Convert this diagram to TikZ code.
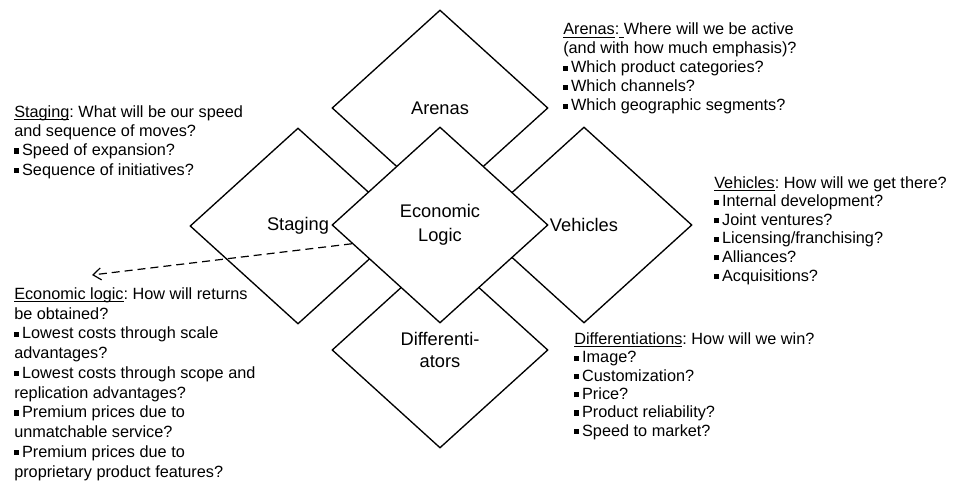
\documentclass[tikz,border=0pt]{standalone}
\usepackage{fontspec}
\setmainfont{Liberation Sans}
\usetikzlibrary{shapes.geometric,arrows.meta,calc}
\frenchspacing
\newcommand\myul[1]{\setbox0\hbox{#1}\rlap{\rule[-2pt]{\wd0}{0.75pt}}\box0}
\newcommand\bul{\raisebox{1.6pt}{\rule{3.9pt}{3.9pt}}\hspace{2pt}}
\begin{document}
\begin{tikzpicture}[x=0.75pt,y=-0.75pt,
  dia/.style={shape=diamond, draw=black, line width=1pt, fill=white,
    minimum width=162pt, minimum height=147pt, inner sep=0pt, align=center,
    font=\fontsize{13.7}{17}\selectfont},
  blk/.style={anchor=base west, align=left, inner sep=0pt},
  conn/.style={dash pattern=on 6pt off 3.75pt, line width=0.9pt,
    -{Straight Barb[length=6pt,width=9pt]}}]
\useasboundingbox (0,0) rectangle (955,481);
\node[dia] (ar) at (440,108) {Arenas};
\node[dia] (st) at (298,226) {Staging};
\node[dia] (ve) at (584,225) {Vehicles};
\node[dia, font=\fontsize{13.7}{16.5}\selectfont] (di) at (440,350) {Differenti-\\ators};
\node[dia, font=\fontsize{13.7}{18}\selectfont] (el) at (440,225) {Economic\\Logic};

% anchors are at the baseline of each block's last line
\node[blk, font=\fontsize{12.2}{14.5}\selectfont] (sttx) at (14,175)
  {\myul{Staging}: What will be our speed\\and sequence of moves?\\\bul Speed of expansion?\\\bul Sequence of initiatives?};
\node[blk, font=\fontsize{12.2}{14.8}\selectfont] (eltx) at (14,477)
  {\myul{Economic logic}: How will returns\\be obtained?\\\bul Lowest costs through scale\\advantages?\\\bul Lowest costs through scope and\\replication advantages?\\\bul Premium prices due to\\unmatchable service?\\\bul Premium prices due to\\proprietary product features?};
\node[blk, font=\fontsize{12.2}{14.25}\selectfont] (artx) at (563,111)
  {\myul{Arenas}:\myul{\ }Where will we be active\\(and with how much emphasis)?\\\bul Which product categories?\\\bul Which channels?\\\bul Which geographic segments?};
\node[blk, font=\fontsize{12.2}{13.9}\selectfont] (vetx) at (714,281)
  {\myul{Vehicles}: How will we get there?\\\bul Internal development?\\\bul Joint ventures?\\\bul Licensing/franchising?\\\bul Alliances?\\\bul Acquisitions?};
\node[blk, font=\fontsize{12.2}{13.7}\selectfont] (ditx) at (574,436)
  {\myul{Differentiations}: How will we win?\\\bul Image?\\\bul Customization?\\\bul Price?\\\bul Product reliability?\\\bul Speed to market?};

\coordinate (tip) at (92,275);
\draw[conn] ($(el.west)!0.19!(el.south)$) -- (tip);
\end{tikzpicture}
\end{document}
